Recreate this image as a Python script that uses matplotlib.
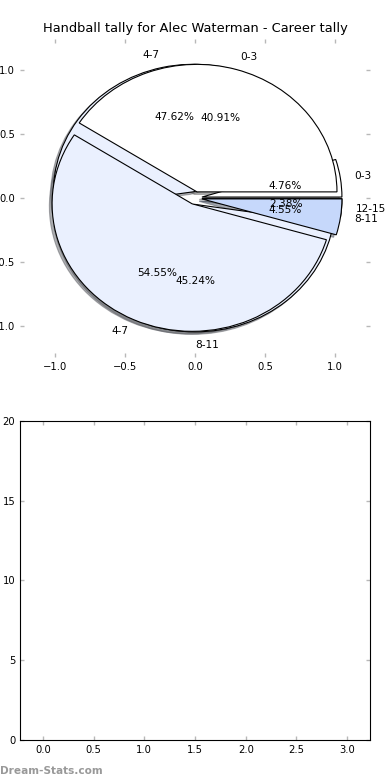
import matplotlib
matplotlib.use("Agg")
import matplotlib.pyplot as plt

# ------------------------------------------------------------
# Data
# ------------------------------------------------------------
labels_a = ["0-3", "4-7", "8-11"]
counts_a = [9, 12, 1]            # 40.91% / 54.55% / 4.55%
colors_a = ["white", "#EAF0FE", "#C6D8FB"]

labels_b = ["0-3", "4-7", "8-11", "12-15"]
counts_b = [2, 20, 19, 1]        # 4.76% / 47.62% / 45.24% / 2.38%
colors_b = ["white", "#EAF0FE", "#EAF0FE", "#C6D8FB"]

title = "Handball tally for Alec Waterman - Career tally"
pie_ticks = [-1.0, -0.5, 0.0, 0.5, 1.0]
bar_xticks = [0.0, 0.5, 1.0, 1.5, 2.0, 2.5, 3.0]
bar_yticks = [0, 5, 10, 15, 20]

W, H = 390, 780
fig = plt.figure(figsize=(W / 100, H / 100), dpi=100)

ax1 = fig.add_axes([20 / W, 1 - 357.4 / H, 350 / W, 318.8 / H])
ax2 = fig.add_axes([20 / W, 1 - 740 / H, 350 / W, 319.3 / H])

wedge_style = dict(edgecolor="black", linewidth=0.8)
text_style = dict(fontsize=7.6)
shadow_style = dict(ox=-0.014, oy=-0.014, shade=0.6)

# second pie first, first pie drawn on top of it
w_b, t_b, p_b = ax1.pie(
    counts_b, explode=[0.05] * len(counts_b), labels=labels_b, colors=colors_b,
    autopct="%1.2f%%", shadow=shadow_style, wedgeprops=wedge_style, textprops=text_style,
)
w_a, t_a, p_a = ax1.pie(
    counts_a, explode=[0.05] * len(counts_a), labels=labels_a, colors=colors_a,
    autopct="%1.2f%%", shadow=shadow_style, wedgeprops=wedge_style, textprops=text_style,
)
t_b[2].set_ha("left")

ax1.set_aspect("auto")
ax1.set_frame_on(False)
ax1.set_xlim(-1.25, 1.25)
ax1.set_ylim(-1.25, 1.25)
ax1.set_xticks(pie_ticks)
ax1.set_yticks(pie_ticks)
ax1.set_xticklabels([f"{v:.1f}".replace("-", "\u2212") for v in pie_ticks])
ax1.set_yticklabels([f"{v:.1f}".replace("-", "\u2212") for v in pie_ticks])
ax1.set_title(title, fontsize=9.4, pad=5)

ax2.set_xlim(-0.225, 3.225)
ax2.set_ylim(0, 20)
ax2.set_xticks(bar_xticks)
ax2.set_yticks(bar_yticks)
ax2.set_xticklabels([f"{v:.1f}" for v in bar_xticks])
ax2.set_yticklabels([str(v) for v in bar_yticks])
for s in ax2.spines.values():
    s.set_linewidth(0.8)

for ax in (ax1, ax2):
    ax.tick_params(direction="in", length=3, width=1, color="#b8b8b8",
                   top=True, right=True, labelsize=7.2, pad=3.5)

fig.text(0.0, 1 - 771 / H, "Dream-Stats.com", color="#999999", fontsize=7.6,
         fontweight="bold", va="center", ha="left")

fig.savefig("out.png", dpi=100)
